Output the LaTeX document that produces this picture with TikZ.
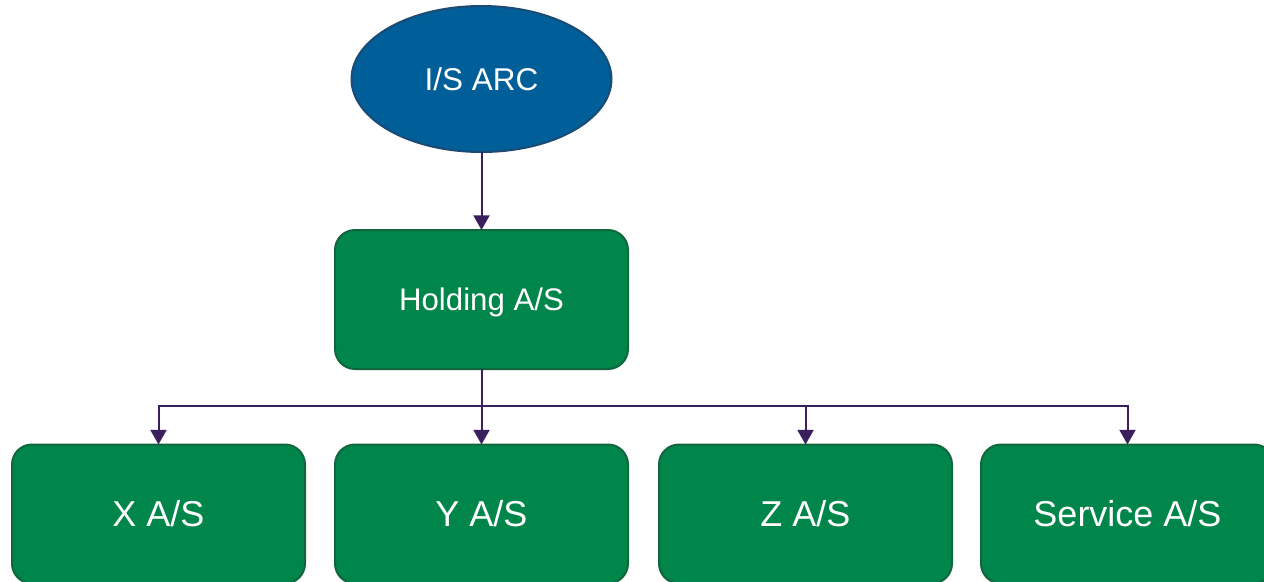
\documentclass[tikz,border=0pt]{standalone}
\usepackage{fontspec}
\setmainfont{Liberation Sans}
\usetikzlibrary{shapes.geometric,arrows.meta}
\definecolor{ellfill}{HTML}{005F98}
\definecolor{elldraw}{HTML}{1B4A74}
\definecolor{boxfill}{HTML}{00854A}
\definecolor{boxdraw}{HTML}{12663D}
\definecolor{linecol}{HTML}{3B1F5C}
\begin{document}
\begin{tikzpicture}[x=0.75pt,y=-0.75pt,
  ellnode/.style={ellipse,fill=ellfill,draw=elldraw,line width=1.5pt,minimum width=195pt,minimum height=109.5pt,inner sep=0pt,outer sep=0pt,text=white,font=\fontsize{23.6}{28}\selectfont,text height=16.9pt,text depth=0pt},
  greenbox/.style={rectangle,rounded corners=15pt,fill=boxfill,draw=boxdraw,line width=1.5pt,minimum width=219.75pt,minimum height=104.25pt,inner sep=0pt,outer sep=0pt,text=white,text depth=0pt},
  topbox/.style={greenbox,font=\fontsize{23.4}{28}\selectfont,text height=16.8pt},
  lowbox/.style={greenbox,font=\fontsize{27}{32}\selectfont,text height=19.3pt},
  conn/.style={draw=linecol,line width=1.5pt,-{Triangle[length=11pt,width=12pt]}}]
\useasboundingbox (0,0) rectangle (1264,582);
\clip (0,0) rectangle (1264,582);
\node[ellnode] (arc) at (481.5,79) {I/S ARC};
\node[topbox] (hold) at (481.5,299.5) {Holding A/S};
\node[lowbox] (x) at (158.5,514) {X A/S};
\node[lowbox] (y) at (481.5,514) {Y A/S};
\node[lowbox] (z) at (805.5,514) {Z A/S};
\node[lowbox] (s) at (1127.5,514) {Service A/S};
\coordinate (bus) at (481.5,406);
\draw[conn] (arc.south) -- (hold.north);
\draw[conn] (hold.south) -- (y.north);
\draw[conn] (hold.south) -- (bus) -| (x.north);
\draw[conn] (hold.south) -- (bus) -| (z.north);
\draw[conn] (hold.south) -- (bus) -| (s.north);
\end{tikzpicture}
\end{document}
